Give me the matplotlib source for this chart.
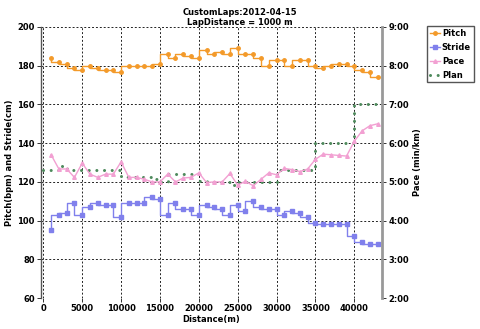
import numpy as np
import matplotlib
matplotlib.use('Agg')
import matplotlib.pyplot as plt
from matplotlib.ticker import FuncFormatter

# lap end distances (m)
laps = [1000 * k for k in range(1, 44)]

pitch = [184, 182, 181, 179, 178, 180, 179, 178, 178, 177,
         180, 180, 180, 180, 181, 186, 184, 186, 185, 184,
         188, 186, 187, 186, 189, 186, 186, 184, 180, 183,
         183, 180, 183, 183, 180, 179, 180, 181, 181, 180,
         178, 177, 174]

stride = [95, 103, 104, 109, 103, 107, 109, 108, 108, 102,
          109, 109, 109, 112, 111, 103, 109, 106, 106, 103,
          108, 107, 106, 103, 108, 105, 110, 107, 106, 106,
          103, 105, 104, 102, 99, 98, 98, 98, 98, 92,
          89, 88, 88]

# pace per lap, "m:ss" per km
pace = ['5:42', '5:20', '5:20', '5:07', '5:29', '5:12', '5:07', '5:12', '5:12', '5:31',
        '5:07', '5:07', '5:04', '5:00', '5:00', '5:12', '5:00', '5:06', '5:07', '5:14',
        '4:59', '5:00', '5:00', '5:13', '4:55', '5:01', '4:54', '5:04', '5:14', '5:11',
        '5:21', '5:19', '5:16', '5:20', '5:35', '5:43', '5:42', '5:41', '5:40', '6:03',
        '6:19', '6:27', '6:30']

# planned pace, from start of each km (last value closes the line)
plan_dist = [1000 * k for k in range(0, 44)]
plan = ['5:19', '5:19', '5:24', '5:19', '5:19', '5:19', '5:19', '5:19', '5:19', '5:19',
        '5:07', '5:07', '5:07', '5:07', '5:04', '5:00', '5:12', '5:12', '5:12', '5:12',
        '5:01', '5:00', '5:00', '5:00', '4:55', '5:00', '5:00', '5:00', '5:00', '5:00',
        '5:19', '5:19', '5:19', '5:19', '5:19', '6:00', '6:00', '6:00', '6:00', '6:00',
        '7:00', '7:00', '7:00', '7:00']

def to_min(s):
    m, sec = s.split(':')
    return int(m) + int(sec) / 60.0

pace_min = [to_min(p) for p in pace]
plan_min = [to_min(p) for p in plan]

plt.rc('font', family='DejaVu Sans', size=6, weight='bold')
plt.rc('axes', labelweight='bold')

orange = '#f39a2a'
blue = '#8080ec'
pink = '#f2a0d2'
green = '#4e8a5c'

fig = plt.figure(figsize=(4.8, 3.29), dpi=100)
ax = fig.add_axes([0.0854, 0.094, 0.7104, 0.824])
ax2 = ax.twinx()

l1, = ax.plot(laps, pitch, drawstyle='steps-pre', color=orange, lw=1,
              marker='o', ms=2.5, label='Pitch', zorder=4)
l2, = ax.plot(laps, stride, drawstyle='steps-pre', color=blue, lw=1,
              marker='s', ms=2.8, label='Stride', zorder=4)
l4, = ax2.plot(plan_dist, plan_min, drawstyle='steps-post', color=green, lw=2.2,
               linestyle=(0, (0.01, 2.5)), dash_capstyle='round', label='Plan', zorder=3)
l3, = ax2.plot(laps, pace_min, color=pink, lw=1, marker='^', ms=2.6,
               label='Pace', zorder=4)

ax.set_xlim(-300, 43560)
ax.set_ylim(60, 200)
ax.set_yticks(np.arange(60, 201, 20))
ax.set_xticks(np.arange(0, 40001, 5000))
ax2.set_ylim(2, 9)
ax2.set_yticks(range(2, 10))
ax2.yaxis.set_major_formatter(FuncFormatter(lambda v, p: '%d:00' % v))

ax.grid(True, color='#222222', linestyle=(0, (2, 2)), linewidth=0.7)
ax.set_axisbelow(True)

for a in (ax, ax2):
    a.spines['top'].set_visible(False)
    a.spines['bottom'].set_visible(False)
ax.spines['right'].set_visible(False)
ax2.spines['left'].set_visible(False)
ax.spines['left'].set_color('#555555')
ax.spines['left'].set_linewidth(1)
ax2.spines['right'].set_color('#999999')
ax2.spines['right'].set_linewidth(2)

ax.tick_params(length=3, width=0.7, pad=1.5, colors='#333333', labelcolor='black')
ax2.tick_params(length=3, width=0.7, pad=1.5, colors='#333333', labelcolor='black')

ax.set_xlabel('Distance(m)', labelpad=1)
ax.set_ylabel('Pitch(bpm) and Stride(cm)', labelpad=2)
ax2.set_ylabel('Pace (min/km)', labelpad=3)

fig.text(0.5, 0.975, 'CustomLaps:2012-04-15\nLapDistance = 1000 m',
         ha='center', va='top', fontsize=6, linespacing=1.1)

fig.legend(handles=[l1, l2, l3, l4], loc='upper left',
           bbox_to_anchor=(0.89, 0.922), fontsize=6, handlelength=1.2,
           handletextpad=0.2, borderpad=0.35, borderaxespad=0, labelspacing=0.6,
           fancybox=False, edgecolor='#555555', framealpha=1)

fig.savefig('out.png', dpi=100)
